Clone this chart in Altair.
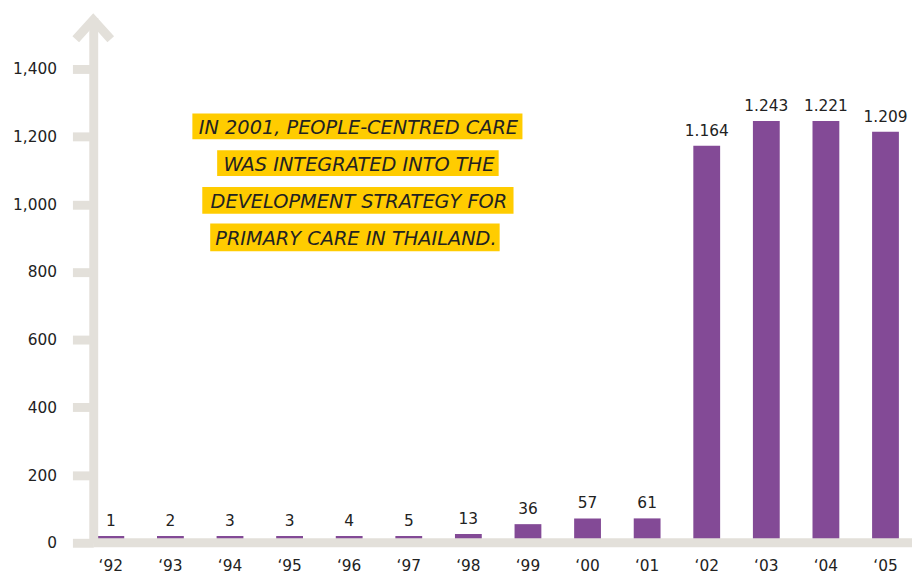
import altair as alt
import pandas as pd

# ---- data ----
years = ["‘92", "‘93", "‘94", "‘95", "‘96", "‘97", "‘98", "‘99",
         "‘00", "‘01", "‘02", "‘03", "‘04", "‘05"]
value_labels = ["1", "2", "3", "3", "4", "5", "13", "36", "57", "61",
                "1.164", "1.243", "1.221", "1.209"]
# bar heights as drawn in the picture (axis units)
bar_heights = [20, 20, 20, 20, 20, 20, 26, 55, 72, 72, 1173, 1246, 1246, 1214]
y_ticks = [0, 200, 400, 600, 800, 1000, 1200, 1400]
note_lines = ["IN 2001, PEOPLE-CENTRED CARE ",
              "WAS INTEGRATED INTO THE ",
              "DEVELOPMENT STRATEGY FOR ",
              "PRIMARY CARE IN THAILAND."]

PURPLE = "#834A96"
AXIS = "#E3E0DA"
YELLOW = "#FFCC00"
TEXT = "#222222"
FONT = "DejaVu Sans"

W, H = 817, 530
YMAX = 1552

df = pd.DataFrame({"year": years, "height": bar_heights, "label": value_labels})

xenc = alt.X("year:N", sort=years,
             scale=alt.Scale(paddingInner=0.55, paddingOuter=0.07),
             axis=alt.Axis(title=None, domain=False, ticks=False, tickSize=0,
                           labelAngle=0, labelPadding=16, labelFontSize=15.5,
                           labelFont=FONT, labelColor=TEXT))
yscale = alt.Scale(domain=[0, YMAX], nice=False, zero=True)

bars = alt.Chart(df).mark_bar(color=PURPLE).encode(
    x=xenc,
    y=alt.Y("height:Q", scale=yscale,
            axis=alt.Axis(title=None, values=y_ticks, format=",d", grid=False,
                          domainColor=AXIS, domainWidth=9,
                          tickColor=AXIS, tickWidth=9, tickSize=21,
                          labelPadding=16, labelFontSize=15.5, labelFont=FONT,
                          labelColor=TEXT, zindex=1)),
)

texts = alt.Chart(df).mark_text(font=FONT, fontSize=15.5, baseline="alphabetic",
                                dy=-10, color=TEXT).encode(
    x=alt.X("year:N", sort=years),
    y=alt.Y("height:Q"),
    text="label:N",
)

one = pd.DataFrame({"k": [0]})

band = alt.Chart(one).mark_rule(color=AXIS, strokeWidth=9).encode(
    x=alt.value(0), x2=alt.value(W + 9), y=alt.datum(0)
)

arrow = alt.Chart(one).mark_point(
    shape="M -0.9 1 L 0 0 L 0.9 1", size=1537, filled=False,
    strokeWidth=9, color=AXIS, opacity=1, strokeJoin="miter", strokeCap="butt"
).encode(x=alt.value(0), y=alt.value(2.4))

# annotation (pixel placement inside plot area)
boxes = [(100, 433, 97, 123), (125, 409, 134, 160),
         (110, 424, 171, 198), (118, 410, 208, 236)]
note_layers = []
for line, (x0, x1, y0, y1) in zip(note_lines, boxes):
    d = pd.DataFrame({"t": [line]})
    note_layers.append(
        alt.Chart(d).mark_rect(color=YELLOW).encode(
            x=alt.value(x0), x2=alt.value(x1), y=alt.value(y0), y2=alt.value(y1))
    )
    note_layers.append(
        alt.Chart(d).mark_text(font=FONT, fontSize=19.5, fontStyle="italic",
                               align="center", baseline="middle", color=TEXT).encode(
            x=alt.value((x0 + x1) / 2 + 1), y=alt.value((y0 + y1) / 2 + 2), text="t:N")
    )

chart = alt.layer(bars, texts, band, arrow, *note_layers).properties(
    width=W, height=H,
    autosize=alt.AutoSizeParams(type="none"),
    padding={"left": 86, "top": 7, "right": 9, "bottom": 29},
    background="white",
).configure_view(stroke=None)

chart.save("out.html", embed_options={"renderer": "svg", "actions": False})
